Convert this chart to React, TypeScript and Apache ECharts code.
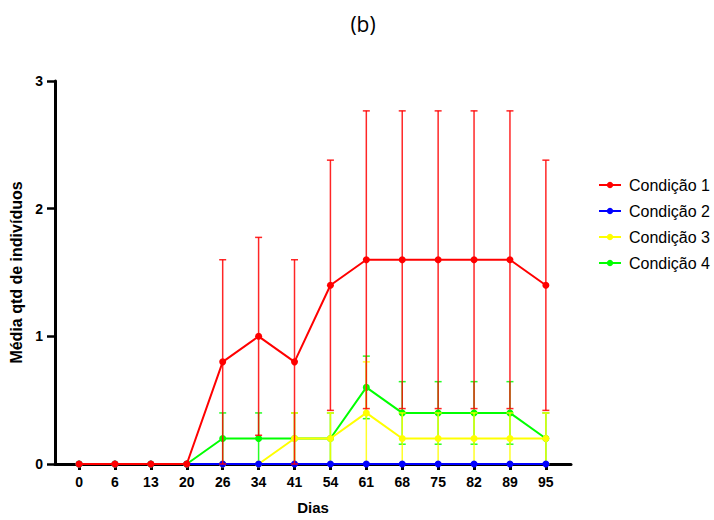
import React, { useEffect, useRef } from "react";
import * as echarts from "echarts";

// Sampling days (evenly spaced on the axis)
const dias = ["0", "6", "13", "20", "26", "34", "41", "54", "61", "68", "75", "82", "89", "95"];

// Mean number of individuals and standard error per condition
const cond1Mean = [0, 0, 0, 0, 0.8, 1.0, 0.8, 1.4, 1.6, 1.6, 1.6, 1.6, 1.6, 1.4];
const cond1Sem = [0, 0, 0, 0, 0.8, 0.775, 0.8, 0.98, 1.166, 1.166, 1.166, 1.166, 1.166, 0.98];
const cond2Mean = [0, 0, 0, 0, 0, 0, 0, 0, 0, 0, 0, 0, 0, 0];
const cond2Sem = [0, 0, 0, 0, 0, 0, 0, 0, 0, 0, 0, 0, 0, 0];
const cond3Mean = [0, 0, 0, 0, 0, 0, 0.2, 0.2, 0.4, 0.2, 0.2, 0.2, 0.2, 0.2];
const cond3Sem = [0, 0, 0, 0, 0, 0, 0.2, 0.2, 0.4, 0.2, 0.2, 0.2, 0.2, 0.2];
const cond4Mean = [0, 0, 0, 0, 0.2, 0.2, 0.2, 0.2, 0.6, 0.4, 0.4, 0.4, 0.4, 0.2];
const cond4Sem = [0, 0, 0, 0, 0.2, 0.2, 0.2, 0.2, 0.245, 0.245, 0.245, 0.245, 0.245, 0.2];

const seriesNames = ["Condição 1", "Condição 2", "Condição 3", "Condição 4"];
const colors = ["#ff0000", "#0000ff", "#ffff00", "#00ff00"];
const yTicks = [0, 1, 2, 3];

const FONT = "'Liberation Sans', Arial, Helvetica, sans-serif";

function lineSeries(name: string, mean: number[], color: string, z: number) {
  return {
    name,
    type: "line",
    z,
    data: mean.map((v, i) => [i, v]),
    symbol: "circle",
    symbolSize: 7,
    lineStyle: { color, width: 2 },
    itemStyle: { color },
    emphasis: { disabled: true },
  };
}

function errorSeries(name: string, mean: number[], sem: number[], color: string, z: number) {
  const data = mean
    .map((m, i) => [i, m - sem[i], m + sem[i], sem[i]])
    .filter((d) => d[3] > 0);
  return {
    name,
    type: "custom",
    z,
    data,
    encode: { x: 0, y: [1, 2] },
    silent: true,
    renderItem: (_params: any, api: any) => {
      const x = api.value(0);
      const lo = api.coord([x, api.value(1)]);
      const hi = api.coord([x, api.value(2)]);
      const w = 3.5;
      const style = { stroke: color, lineWidth: 1.5, opacity: 0.85 };
      return {
        type: "group",
        children: [
          { type: "line", shape: { x1: lo[0], y1: lo[1], x2: hi[0], y2: hi[1] }, style },
          { type: "line", shape: { x1: hi[0] - w, y1: hi[1], x2: hi[0] + w, y2: hi[1] }, style },
          { type: "line", shape: { x1: lo[0] - w, y1: lo[1], x2: lo[0] + w, y2: lo[1] }, style },
        ],
      };
    },
  };
}

export default function App() {
  const ref = useRef<HTMLDivElement>(null);

  useEffect(() => {
    if (!ref.current) return;
    const chart = echarts.init(ref.current, null, { renderer: "svg" });
    const idx = dias.map((_, i) => i);

    chart.setOption({
      animation: false,
      backgroundColor: "#ffffff",
      title: {
        text: "(b)",
        left: 358,
        top: 8,
        textAlign: "center",
        textStyle: { fontFamily: "'Open Sans', 'Noto Sans', sans-serif", fontSize: 21, fontWeight: "normal", color: "#000" },
      },
      legend: {
        data: seriesNames,
        orient: "vertical",
        left: 593,
        top: 172,
        itemWidth: 22,
        itemHeight: 8,
        itemGap: 10,
        textStyle: { fontFamily: FONT, fontSize: 16, color: "#000", padding: [0, 0, 0, 3] },
        selectedMode: false,
      },
      grid: { left: 55, right: 143, top: 81, bottom: 55, containLabel: false },
      xAxis: {
        type: "value",
        min: -0.67,
        max: 13.7,
        name: "Dias",
        nameLocation: "middle",
        nameGap: 36,
        nameTextStyle: { fontFamily: FONT, fontSize: 15, fontWeight: "bold", color: "#000" },
        splitLine: { show: false },
        axisLine: { show: true, onZero: false, lineStyle: { color: "#000", width: 3 } },
        axisTick: { show: true, customValues: idx, length: 6, lineStyle: { color: "#000", width: 3 } },
        axisLabel: {
          customValues: idx,
          margin: 11,
          formatter: (v: number) => dias[Math.round(v)] ?? "",
          fontFamily: FONT,
          fontSize: 14,
          fontWeight: "bold",
          color: "#000",
        },
      },
      yAxis: {
        type: "value",
        min: 0,
        max: 3,
        interval: 1,
        name: "Média qtd de indivíduos",
        nameLocation: "middle",
        nameGap: 27,
        nameTextStyle: { fontFamily: FONT, fontSize: 16, fontWeight: "bold", color: "#000" },
        splitLine: { show: false },
        axisLine: { show: true, onZero: false, lineStyle: { color: "#000", width: 3 } },
        axisTick: { show: true, length: 8, lineStyle: { color: "#000", width: 2.5 } },
        axisLabel: {
          margin: 12,
          formatter: (v: number) => (yTicks.includes(v) ? String(v) : ""),
          fontFamily: FONT,
          fontSize: 14,
          fontWeight: "bold",
          color: "#000",
        },
      },
      series: [
        errorSeries("Condição 4 erro", cond4Mean, cond4Sem, colors[3], 2),
        lineSeries(seriesNames[3], cond4Mean, colors[3], 2),
        errorSeries("Condição 3 erro", cond3Mean, cond3Sem, colors[2], 3),
        lineSeries(seriesNames[2], cond3Mean, colors[2], 3),
        errorSeries("Condição 2 erro", cond2Mean, cond2Sem, colors[1], 4),
        lineSeries(seriesNames[1], cond2Mean, colors[1], 4),
        errorSeries("Condição 1 erro", cond1Mean, cond1Sem, colors[0], 5),
        lineSeries(seriesNames[0], cond1Mean, colors[0], 5),
      ],
    });

    return () => chart.dispose();
  }, []);

  return (
    <div
      ref={ref}
      style={{ position: "absolute", left: 0, top: 0, width: 714, height: 520, background: "#fff" }}
    />
  );
}
